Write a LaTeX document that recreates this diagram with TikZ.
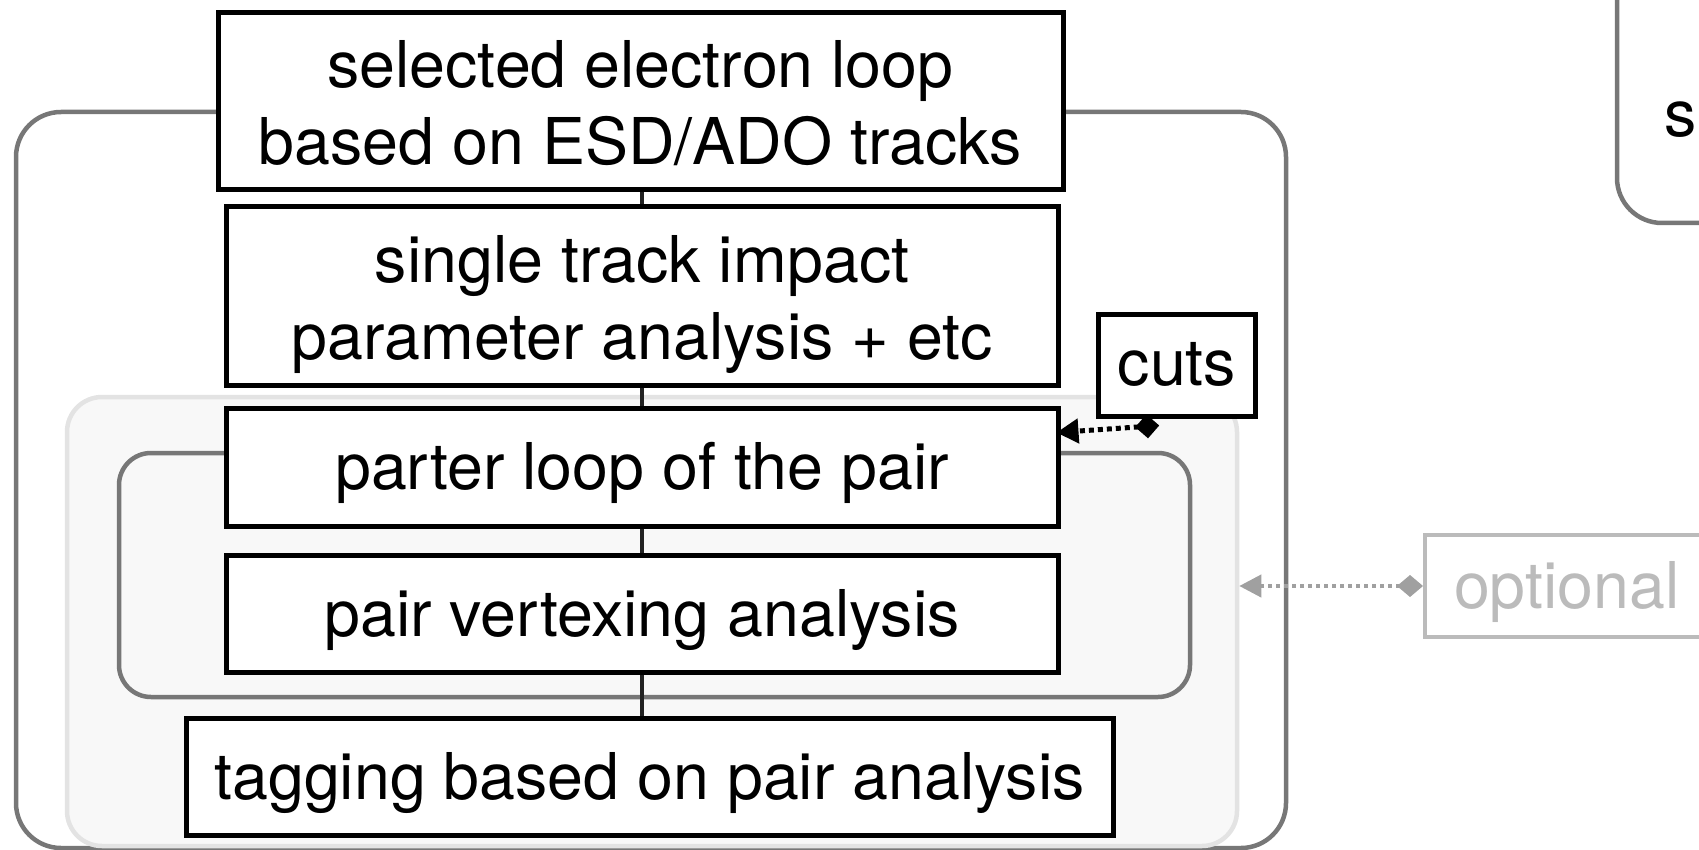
\documentclass[tikz,border=0pt]{standalone}
\usepackage{fontspec}
\setmainfont{TeX Gyre Heros}
\usetikzlibrary{arrows.meta,calc}
\definecolor{outergray}{HTML}{777777}
\definecolor{lightstroke}{HTML}{E3E3E3}
\definecolor{lightfill}{HTML}{F8F8F8}
\definecolor{optgray}{HTML}{BBBBBB}
\definecolor{optarrow}{HTML}{A0A0A0}
\definecolor{connblack}{HTML}{222222}
\begin{document}
\begin{tikzpicture}[x=1pt,y=-1pt,
  font=\fontsize{64.5}{77}\selectfont,
  stepbox/.style={draw=black, line width=5pt, fill=white, align=center, inner sep=0pt},
  oneline/.style={text height=59pt, text depth=14pt},
  twoline/.style={text height=141pt, text depth=14pt},
  container/.style={draw=outergray, line width=4.5pt, rounded corners=45pt, inner sep=0pt},
  lightarea/.style={draw=lightstroke, fill=lightfill, line width=4.5pt, rounded corners=35pt, inner sep=0pt},
  conn/.style={draw=connblack, line width=4pt},
  cutarrow/.style={draw=black, line width=5pt, dash pattern=on 5pt off 4pt,
    {Diamond[length=24pt,width=24pt]}-{Triangle[length=22pt,width=24pt]}},
  optarrowstyle/.style={draw=optarrow, line width=4pt, dash pattern=on 4pt off 4pt,
    {Diamond[length=26pt,width=22pt]}-{Triangle[length=22pt,width=22pt]}},
]
\useasboundingbox (0,0) rectangle (1699,850);
\clip (0,0) rectangle (1699,850);

% containers
\node[container, minimum width=1270pt, minimum height=736pt] (outer) at (651,480) {};
\node[lightarea, minimum width=1170pt, minimum height=449pt] (optarea) at (652,621.5) {};
\node[container, rounded corners=32pt, minimum width=1071pt, minimum height=244pt] (pairloop) at (654.5,575) {};

% top-right partial box
\draw[draw=outergray, line width=4.5pt, rounded corners=45pt] (1617,-80) rectangle (1900,223);
\node[anchor=base west, inner sep=0pt] (stext) at (1664,137) {s};

% steps
\node[stepbox, twoline, minimum width=845pt, minimum height=177pt] (box1) at (640.5,101.5)
  {selected electron loop\\based on ESD/ADO tracks};
\node[stepbox, twoline, minimum width=832pt, minimum height=178pt] (box2) at (642,296)
  {single track impact\\parameter analysis + etc};
\node[stepbox, oneline, minimum width=832pt, minimum height=118pt] (box3) at (642,467)
  {parter loop of the pair};
\node[stepbox, oneline, minimum width=832pt, minimum height=117pt] (box4) at (642,613.5)
  {pair vertexing analysis};
\node[stepbox, oneline, minimum width=927pt, minimum height=117pt] (box5) at (649.5,776.5)
  {tagging based on pair analysis};
\node[stepbox, text height=52pt, text depth=12pt, minimum width=157pt, minimum height=102pt] (cuts) at (1177,365) {cuts};
\node[draw=optgray, text=optgray, line width=4pt, anchor=west, inner xsep=29pt,
  text height=59pt, text depth=14pt, minimum height=102pt] (opt) at (1423,586) {optional};

% connectors
\draw[conn] (box2.north) -- (box2.north |- box1.south);
\draw[conn] (box3.north) -- (box3.north |- box2.south);
\draw[conn] (box4.north) -- (box4.north |- box3.south);
\draw[conn] (box4.south) -- (box4.south |- box5.north);

% arrows
\draw[cutarrow] ($(cuts.south west)!0.39!(cuts.south east)+(0,7)$) -- ($(box3.north east)!0.22!(box3.south east)+(-4,0)$);
\draw[optarrowstyle] (opt.west) -- (opt.west -| optarea.east);
\end{tikzpicture}
\end{document}
